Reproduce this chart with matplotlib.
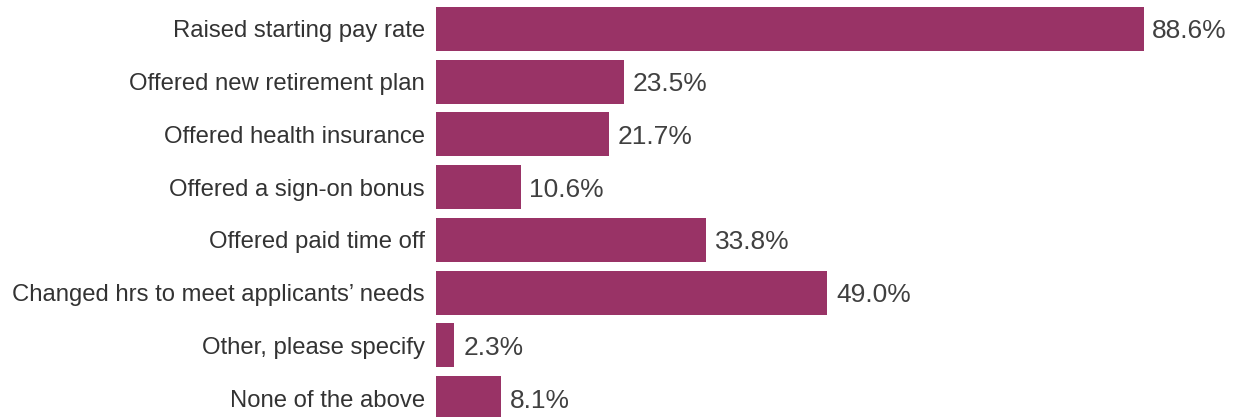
import matplotlib
matplotlib.use("Agg")
import matplotlib.pyplot as plt

plt.rcParams['font.family'] = ['Liberation Sans', 'DejaVu Sans']

categories = [
    "Raised starting pay rate",
    "Offered new retirement plan",
    "Offered health insurance",
    "Offered a sign-on bonus",
    "Offered paid time off",
    "Changed hrs to meet applicants\u2019 needs",
    "Other, please specify",
    "None of the above",
]
values = [88.6, 23.5, 21.7, 10.6, 33.8, 49.0, 2.3, 8.1]

bar_color = "#993366"
text_color = "#404040"

fig = plt.figure(figsize=(12.33, 4.17), dpi=100)
ax = fig.add_axes([436 / 1233, 0, 1 - 436 / 1233, 1])

ypos = list(range(len(categories)))
ax.barh(ypos, values, height=0.835, color=bar_color)

for y, v in zip(ypos, values):
    ax.text(v + 1.1, y, f"{v:.1f}%", va="center_baseline", ha="left",
            fontsize=19, color=text_color)

ax.set_xlim(0, 99.8)
ax.set_ylim(7.36, -0.55)
ax.set_yticks(ypos)
ax.set_yticklabels(categories, fontsize=17.2, color="#333333")
for lbl in ax.get_yticklabels():
    lbl.set_verticalalignment("center_baseline")
ax.tick_params(axis="y", length=0, pad=8)
ax.set_xticks([])
for s in ax.spines.values():
    s.set_visible(False)

fig.savefig("out.png", dpi=100)
